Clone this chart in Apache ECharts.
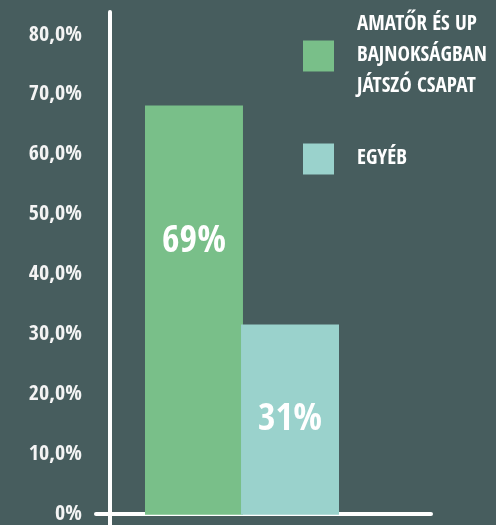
<!DOCTYPE html>
<html><head><meta charset="utf-8">
<script src="https://cdn.jsdelivr.net/npm/echarts@6/dist/echarts.min.js"></script>
<style>html,body{margin:0;padding:0;background:#475d5e}#c{width:496px;height:525px}</style>
</head><body><div id="c"></div>
<script>
const seriesNames = ['AMATŐR ÉS UP\nBAJNOKSÁGBAN\nJÁTSZÓ CSAPAT', 'EGYÉB'];
const seriesValues = [68.2, 31.7];
const barLabels = ['69%', '31%'];
const yTickValues = [0, 10, 20, 30, 40, 50, 60, 70, 80];
const yTickLabels = ['0%', '10,0%', '20,0%', '30,0%', '40,0%', '50,0%', '60,0%', '70,0%', '80,0%'];
const colors = ['#79bf89', '#9ad2cc'];

const FONT = "'Open Sans Condensed', 'Roboto Condensed', sans-serif";
const chart = echarts.init(document.getElementById('c'));
const yMin = -1.7, yMax = 83.8;
chart.setOption({
  backgroundColor: '#475d5e',
  animation: false,
  legend: {
    orient: 'vertical', left: 303, top: 8, padding: 0, itemWidth: 31, itemHeight: 31, itemGap: 38,
    icon: 'rect',
    data: seriesNames,
    textStyle: { color: '#ffffff', fontFamily: FONT, fontWeight: 'bold', fontSize: 21, lineHeight: 31, padding: [3, 0, 0, 18] }
  },
  grid: [
    { left: 96, right: 65, top: 12, bottom: 0 },
    { left: 145, right: 157, top: 12, bottom: 0 }
  ],
  xAxis: [
    { type: 'category', gridIndex: 0, data: [''], axisLine: { onZero: true, lineStyle: { color: '#ffffff', width: 4 } }, axisTick: { show: false }, axisLabel: { show: false } },
    { type: 'category', gridIndex: 1, data: [''], show: false }
  ],
  yAxis: [
    { type: 'value', gridIndex: 0, min: yMin, max: yMax, offset: -14,
      axisLine: { show: true, lineStyle: { color: '#ffffff', width: 4 } },
      axisTick: { show: false }, splitLine: { show: false },
      axisLabel: { customValues: yTickValues, margin: 28, color: '#f4f4f4', fontFamily: FONT, fontWeight: 'bold', fontSize: 22,
        formatter: v => { const i = yTickValues.indexOf(Math.round(v)); return i >= 0 ? yTickLabels[i] : ''; } } },
    { type: 'value', gridIndex: 1, min: yMin, max: yMax, show: false }
  ],
  series: seriesNames.map((name, i) => ({
    type: 'bar', name, xAxisIndex: 1, yAxisIndex: 1,
    data: [seriesValues[i]], barWidth: 98, barGap: '-2%',
    itemStyle: { color: colors[i] },
    label: { show: true, position: 'inside', offset: i === 0 ? [0, -68] : [0, 0], formatter: () => barLabels[i],
      color: '#ffffff', fontFamily: FONT, fontWeight: 'bold', fontSize: 38 }
  }))
});
</script></body></html>
